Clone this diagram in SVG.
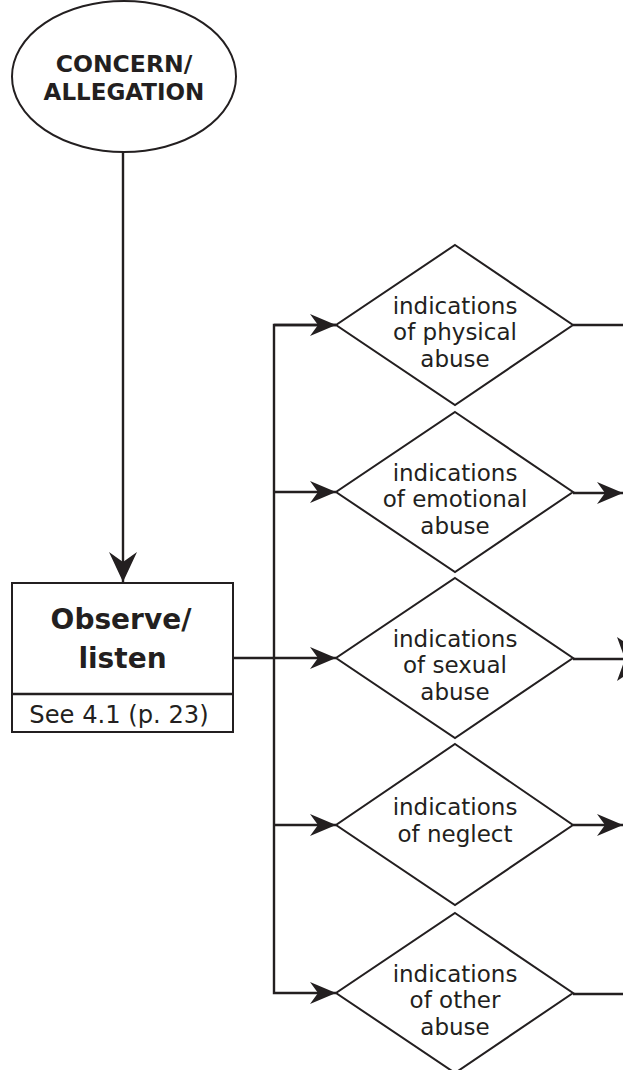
<svg xmlns="http://www.w3.org/2000/svg" width="623" height="1070" viewBox="0 0 623 1070">
<style>
.shape{fill:#fff;stroke:#231f20;stroke-width:2}
.line{fill:none;stroke:#231f20;stroke-width:2.4}
.t{font-family:"DejaVu Sans",Verdana,sans-serif;fill:#231f20;text-anchor:middle}
.b{font-weight:bold}
.d{font-size:23px}
</style>
<defs>
<marker id="ah" markerUnits="userSpaceOnUse" markerWidth="30" markerHeight="30" viewBox="-28 -13 30 26" refX="0" refY="0" orient="auto">
<path d="M0,0 L-26,-11 L-18,0 L-26,11 Z" fill="#231f20"/>
</marker>
<marker id="ahBig" markerUnits="userSpaceOnUse" markerWidth="34" markerHeight="34" viewBox="-32 -16 34 32" refX="0" refY="0" orient="auto">
<path d="M0,0 L-30,-14 L-20,0 L-30,14 Z" fill="#231f20"/>
</marker>
</defs>
<g id="connectors">
<line class="line" x1="123" y1="152" x2="123" y2="582" marker-end="url(#ahBig)"/>
<line class="line" x1="233" y1="658" x2="336" y2="658" marker-end="url(#ah)"/>
<polyline class="line" points="336,325 274,325 274,993 336,993" marker-end="url(#ah)"/>
<line class="line" x1="274" y1="325" x2="336" y2="325" marker-end="url(#ah)"/>
<line class="line" x1="274" y1="492" x2="336" y2="492" marker-end="url(#ah)"/>
<line class="line" x1="274" y1="825" x2="336" y2="825" marker-end="url(#ah)"/>
<line class="line" x1="573" y1="325" x2="623" y2="325"/>
<line class="line" x1="573" y1="493" x2="623" y2="493" marker-end="url(#ah)"/>
<line class="line" x1="573" y1="659" x2="623" y2="659"/>
<path d="M617,637 L650,659 L625,659 Z M617,681 L650,659 L625,659 Z" fill="#231f20"/>
<line class="line" x1="573" y1="825" x2="623" y2="825" marker-end="url(#ah)"/>
<line class="line" x1="573" y1="994" x2="623" y2="994"/>
</g>
<g id="concern">
<ellipse class="shape" cx="124" cy="76.5" rx="112" ry="75.5"/>
<text class="t b" font-size="23.5" x="124" y="72">CONCERN/</text>
<text class="t b" font-size="23" x="124" y="100">ALLEGATION</text>
</g>
<g id="observe">
<rect class="shape" x="12" y="583" width="221" height="149"/>
<line class="line" x1="12" y1="694" x2="233" y2="694"/>
<text class="t b" font-size="28" x="121" y="629">Observe/</text>
<text class="t b" font-size="28" x="122.5" y="668">listen</text>
<text class="t" font-size="24.2" x="119" y="723">See 4.1 (p. 23)</text>
</g>
<g id="physical">
<polygon class="shape" points="455,245 573,325 455,405 336,325"/>
<text class="t d" x="455" y="314">indications</text>
<text class="t d" x="455" y="340">of physical</text>
<text class="t d" x="455" y="367">abuse</text>
</g>
<g id="emotional">
<polygon class="shape" points="455,412 573,492 455,572 336,492"/>
<text class="t d" x="455" y="481">indications</text>
<text class="t d" x="455" y="507">of emotional</text>
<text class="t d" x="455" y="534">abuse</text>
</g>
<g id="sexual">
<polygon class="shape" points="455,578 573,658 455,738 336,658"/>
<text class="t d" x="455" y="647">indications</text>
<text class="t d" x="455" y="673">of sexual</text>
<text class="t d" x="455" y="700">abuse</text>
</g>
<g id="neglect">
<polygon class="shape" points="455,744 573,825 455,905 336,825"/>
<text class="t d" x="455" y="815">indications</text>
<text class="t d" x="455" y="842">of neglect</text>
</g>
<g id="other">
<polygon class="shape" points="455,913 573,993 455,1073 336,993"/>
<text class="t d" x="455" y="982">indications</text>
<text class="t d" x="455" y="1008">of other</text>
<text class="t d" x="455" y="1035">abuse</text>
</g>
</svg>
